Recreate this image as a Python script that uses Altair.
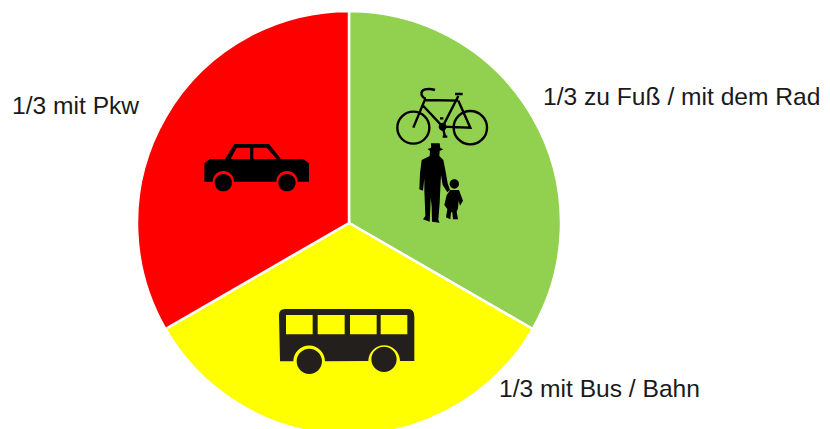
import altair as alt
import pandas as pd

# Pie data
modes = ["1/3 zu Fuß / mit dem Rad", "1/3 mit Bus / Bahn", "1/3 mit Pkw"]
shares = [1, 1, 1]
colors = ["#92d050", "#ffff00", "#ff0000"]
order = [0, 1, 2]

# Labels
label_x = [535, 491, 4]
label_y = [97, 389, 106]

# Icons are drawn in 3x units from the crop's top-left corner
CAR = ("M28,85 L45,72 L90,72 L118,27 L222,27 L258,72 L325,72 L342,85 L342,140 L308,140 "
       "A32,32 0 0 0 244,140 L117,140 A32,32 0 0 0 53,140 L28,140 Z "
       "M107,72 L165,72 L165,38 L125,38 Z M175,72 L245,72 L215,38 L175,38 Z "
       "M59,143 A26,26 0 0 1 111,143 A26,26 0 0 1 59,143 Z "
       "M250,143 A26,26 0 0 1 302,143 A26,26 0 0 1 250,143 Z")
BUS = ("M27,45 Q27,27 45,27 L415,27 Q433,27 433,50 L433,183 L390,183 "
       "A47,47 0 0 0 295,183 L165,184 A47,47 0 0 0 70,184 L30,184 Z "
       "M48,45 L48,103 L128,103 L128,45 Z M143,45 L143,103 L224,103 L224,45 Z "
       "M240,45 L240,103 L320,103 L320,45 Z M332,45 L332,103 L412,103 L412,45 Z "
       "M80,184 A38,38 0 0 1 156,184 A38,38 0 0 1 80,184 Z "
       "M304,178 A38,38 0 0 1 380,178 A38,38 0 0 1 304,178 Z")
PEOPLE = ("M123,190 L149,190 L151,204 L160,208 L149,213 L148,228 L160,240 L166,270 L173,310 L180,330 "
          "L172,337 L158,315 L153,285 L151,325 L149,370 L145,420 L149,428 L126,425 L125,380 L122,352 "
          "L121,385 L119,425 L99,418 L106,408 L103,330 L103,295 L99,332 L88,328 L90,280 L95,240 "
          "L119,228 L120,213 L113,207 L123,203 Z "
          "M179,312 A14,14 0 0 1 207,312 A14,14 0 0 1 179,312 Z "
          "M181,330 L207,330 L219,362 L210,377 L206,362 L204,385 L200,395 L204,418 L189,418 L187,397 "
          "L183,397 L181,418 L168,412 L172,387 L163,375 L170,345 Z "
          "M146,140 A12,12 0 0 1 170,140 A12,12 0 0 1 146,140 Z")
BIKE = ("M22,143 A48,48 0 0 1 118,143 A48,48 0 0 1 22,143 Z "
        "M191,143 A50,50 0 0 1 291,143 A50,50 0 0 1 191,143 Z "
        "M70,143 L105,58 M135,30 Q120,25 105,28 Q92,32 95,45 Q100,55 108,55 "
        "M105,60 L205,62 M100,78 L158,140 M205,48 L158,140 M158,140 L241,143 L205,62 "
        "M195,42 L218,42 M150,115 L160,115 M158,140 L165,170 M158,170 L172,170")

icon_names = ["car", "bus", "people"]
icon_shapes = [CAR, BUS, PEOPLE]
icon_colors = ["#000000", "#231f1c", "#000000"]
icon_x = [187, 262, 382]
icon_y = [127, 292, 72]

pie = pd.DataFrame({"mode": modes, "share": shares, "order": order})
labels = pd.DataFrame({"mode": modes, "x": label_x, "y": label_y})

arcs = alt.Chart(pie).mark_arc(radius=212, stroke="white", strokeWidth=2.5).encode(
    theta=alt.Theta("share:Q", stack=True),
    order=alt.Order("order:Q"),
    color=alt.Color("mode:N", scale=alt.Scale(domain=modes, range=colors), legend=None),
    x=alt.value(341),
    y=alt.value(215),
)

layers = [arcs]
for name, shape, col, ix, iy in zip(icon_names, icon_shapes, icon_colors, icon_x, icon_y):
    d = pd.DataFrame({"name": [name], "x": [ix], "y": [iy]})
    layers.append(
        alt.Chart(d).mark_point(shape=shape, filled=True, fill=col, opacity=1, size=4/9, strokeWidth=0).encode(
            x=alt.X("x:Q", scale=None), y=alt.Y("y:Q", scale=None)
        )
    )

bike = pd.DataFrame({"name": ["bike"], "x": [icon_x[2]], "y": [icon_y[2]]})
layers.append(
    alt.Chart(bike).mark_point(shape=BIKE, filled=False, stroke="#000000", opacity=1, size=4/9, strokeWidth=2.4).encode(
        x=alt.X("x:Q", scale=None), y=alt.Y("y:Q", scale=None)
    )
)

text = alt.Chart(labels).mark_text(
    align="left", baseline="alphabetic", font="Liberation Sans", fontSize=24.6, color="#1a1a1a"
).encode(x=alt.X("x:Q", scale=None), y=alt.Y("y:Q", scale=None), text="mode:N")
layers.append(text)

chart = alt.layer(*layers).properties(
    width=814, height=421, padding=0, autosize=alt.AutoSizeParams(type="none")
).configure_view(stroke=None).configure_axis(disable=True)

chart.save("out.html", embed_options={"renderer": "svg", "actions": False})
